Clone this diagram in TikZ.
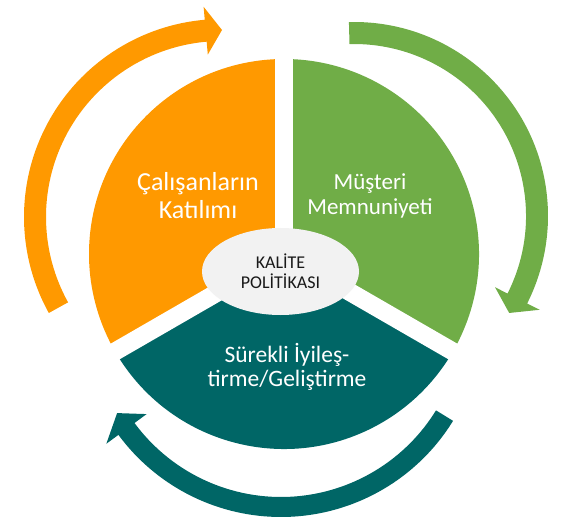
\documentclass[tikz,border=0pt]{standalone}
\usepackage{fontspec}
\setmainfont{Carlito}
\usetikzlibrary{positioning,shapes.geometric}
\definecolor{kaorange}{RGB}{255,153,0}
\definecolor{kagreen}{RGB}{112,173,71}
\definecolor{kateal}{RGB}{0,102,102}
\definecolor{kagray}{RGB}{242,242,242}

\begin{document}
\begin{tikzpicture}[x=1pt,y=1pt,
  lbl/.style={align=center,text=white,inner sep=0pt},
  gap/.style={white,line width=18pt},
  pol/.style={ellipse,fill=kagray,inner sep=0pt,minimum width=157pt,minimum height=87pt,align=center,font=\fontsize{18}{20}\selectfont,text=black!90}]
\useasboundingbox (0,0) rectangle (570,520);
\coordinate (o) at (284,266);
% pie
\fill[kaorange] (o) -- ++(90:195) arc[start angle=90,end angle=210,radius=195] -- cycle;
\fill[kagreen] (o) -- ++(-30:195) arc[start angle=-30,end angle=90,radius=195] -- cycle;
\fill[kateal] (o) -- ++(210:195) arc[start angle=210,end angle=330,radius=195] -- cycle;
\foreach \a in {90,210,330} \draw[gap] (o) -- ++(\a:205);
% round arrows
\coordinate (oc) at (222,303);
\coordinate (gc) at (354,304);
\coordinate (tc) at (281,205);
\fill[kaorange] ([shift={(oc)}]209:198) arc[start angle=209,end angle=95,radius=198]
  -- ([shift={(oc)}]95:211) -- ([shift={(oc)}]90:187) -- ([shift={(oc)}]95:163)
  -- ([shift={(oc)}]95:176) arc[start angle=95,end angle=209,radius=176] -- cycle;
\fill[kagreen] ([shift={(gc)}]91.5:194) arc[start angle=91.5,end angle=-26.8,radius=194]
  -- ([shift={(gc)}]-26.8:208) -- ([shift={(gc)}]-32:183) -- ([shift={(gc)}]-26.8:158)
  -- ([shift={(gc)}]-26.8:172) arc[start angle=-26.8,end angle=91.5,radius=172] -- cycle;
\fill[kateal] ([shift={(tc)}]-31.6:202) arc[start angle=-31.6,end angle=-143.6,radius=202]
  -- ([shift={(tc)}]-143.6:217) -- ([shift={(tc)}]-149.1:191) -- ([shift={(tc)}]-143.6:167)
  -- ([shift={(tc)}]-143.6:182) arc[start angle=-143.6,end angle=-31.6,radius=182] -- cycle;
% labels
\node[lbl,font=\fontsize{26}{28}\selectfont] (cal) at (198,324) {Çalışanların\\Katılımı};
\node[lbl,font=\fontsize{23}{25}\selectfont] (mus) at (370,324) {Müşteri\\Memnuniyeti};
\node[lbl,font=\fontsize{23.5}{24}\selectfont] (sur) at (287,153) {Sürekli İyileş-\\tirme/Geliştirme};
\node[pol] (kal) at (280.5,248.5) {KALİTE\\POLİTİKASI};
\end{tikzpicture}
\end{document}
